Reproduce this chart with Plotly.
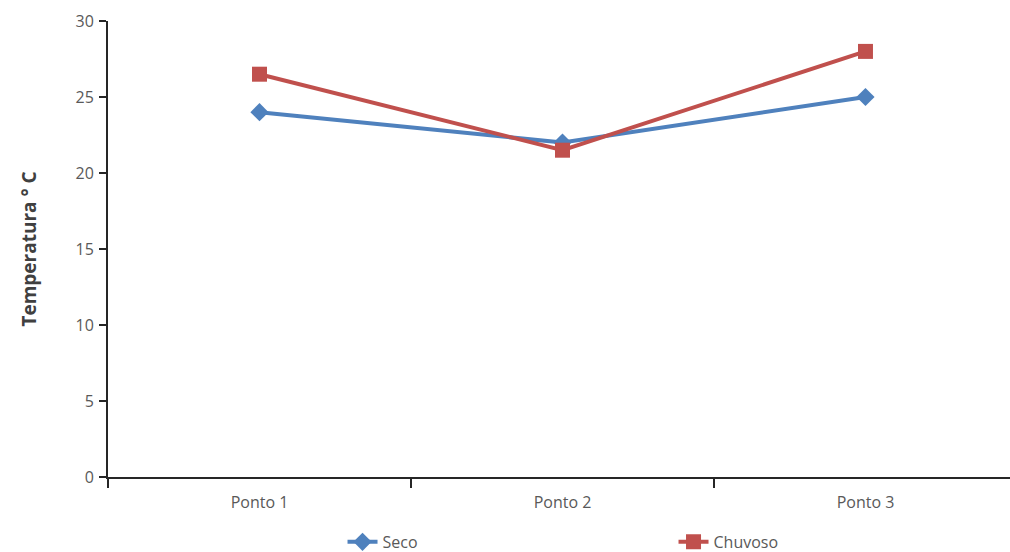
import plotly.graph_objects as go

# Temperatura média por ponto de coleta, períodos seco e chuvoso
pontos = ["Ponto 1", "Ponto 2", "Ponto 3"]
seco = [24, 22, 25]
chuvoso = [26.5, 21.5, 28]

azul = "#4F81BD"
vermelho = "#C0504D"
fonte = "Open Sans, Liberation Sans, sans-serif"

fig = go.Figure()
fig.add_trace(go.Scatter(
    x=pontos, y=seco, name="Seco", mode="lines+markers",
    line=dict(color=azul, width=4),
    marker=dict(symbol="diamond", size=14, color=azul),
))
fig.add_trace(go.Scatter(
    x=pontos, y=chuvoso, name="Chuvoso", mode="lines+markers",
    line=dict(color=vermelho, width=4),
    marker=dict(symbol="square", size=15, color=vermelho),
))

fig.update_layout(
    width=1010, height=552,
    margin=dict(l=108, r=0, t=21, b=75, autoexpand=False),
    paper_bgcolor="white", plot_bgcolor="white",
    font=dict(family=fonte, color="#595959", size=15),
    showlegend=True,
    legend=dict(
        orientation="h", x=0.26, xanchor="left", y=-0.105, yanchor="top",
        entrywidth=286, entrywidthmode="pixels",
        font=dict(size=16, color="#595959"),
        bgcolor="rgba(0,0,0,0)",
    ),
    xaxis=dict(
        type="category", range=[-0.5, 2.477],
        showline=True, linecolor="#262626", linewidth=2,
        ticks="outside", tickson="boundaries", ticklen=9,
        tickcolor="#262626", tickwidth=2,
        showgrid=False, zeroline=False,
        ticklabelstandoff=10,
        tickfont=dict(size=16, color="#595959"),
    ),
    yaxis=dict(
        range=[0, 30], dtick=5,
        showline=True, linecolor="#262626", linewidth=2,
        ticks="outside", ticklen=7, tickcolor="#262626", tickwidth=2,
        showgrid=False, zeroline=False,
        ticklabelstandoff=2,
        tickfont=dict(size=16, color="#595959"),
        title=dict(text="<b>Temperatura ° C</b>", standoff=34,
                   font=dict(size=19, color="#404040")),
    ),
)

fig.write_html("out.html")
